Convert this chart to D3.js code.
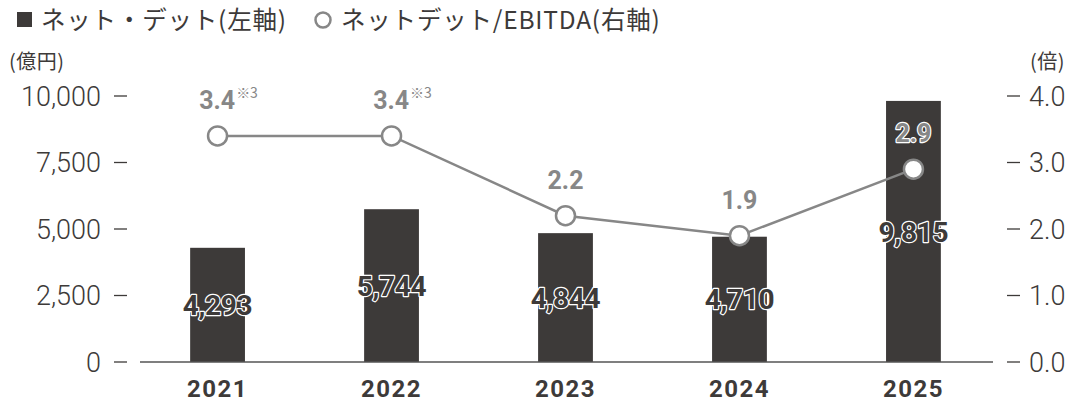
<!DOCTYPE html>
<html>
<head>
<meta charset="utf-8">
<script src="https://cdn.jsdelivr.net/npm/d3@7"></script>
<style>
  body { margin: 0; background: #fff; }
  svg { display: block; font-family: Roboto, "Noto Sans CJK JP", sans-serif; }
</style>
</head>
<body>
<div id="chart"></div>
<script>
var years = ["2021", "2022", "2023", "2024", "2025"]
var netDebt = [4293, 5744, 4844, 4710, 9815]
var ratio = [3.4, 3.4, 2.2, 1.9, 2.9]
var ratioNotes = ["※3", "※3", "", "", ""]
var leftTicks = [0, 2500, 5000, 7500, 10000]
var rightTicks = [0, 1, 2, 3, 4]

var width = 1077, height = 408
var dark = "#3d3a39", grey = "#878787"

var svg = d3.select("#chart").append("svg")
  .attr("width", width)
  .attr("height", height)

var x = d3.scaleBand().domain(years).range([131, 1000]).paddingInner(0.685).paddingOuter(0.34)
var yL = d3.scaleLinear().domain([0, 10000]).range([362, 96])
var yR = d3.scaleLinear().domain([0, 4]).range([362, 96])
var fmt = d3.format(",")
var jp = "'Noto Sans CJK JP'"

// legend
svg.append("rect").attr("x", 17).attr("y", 12).attr("width", 15).attr("height", 15).attr("fill", dark)
svg.append("text").attr("x", 41).attr("y", 29).attr("font-size", 24.5).attr("letter-spacing", 0.8)
  .attr("fill", dark).attr("font-family", jp).text("ネット・デット(左軸)")
svg.append("circle").attr("cx", 323).attr("cy", 20).attr("r", 7.5)
  .attr("fill", "#fff").attr("stroke", grey).attr("stroke-width", 2.5)
svg.append("text").attr("x", 341).attr("y", 29).attr("font-size", 24.5).attr("letter-spacing", 0.8)
  .attr("fill", dark).attr("font-family", jp).text("ネットデット/EBITDA(右軸)")

svg.append("text").attr("x", 9).attr("y", 69).attr("font-size", 20).attr("letter-spacing", 0.5)
  .attr("fill", dark).attr("font-family", jp).text("(億円)")
svg.append("text").attr("x", 1030).attr("y", 69).attr("font-size", 20).attr("letter-spacing", 0.5)
  .attr("fill", dark).attr("font-family", jp).text("(倍)")

// left axis
var la = svg.append("g").selectAll("g").data(leftTicks).enter().append("g")
la.append("line").attr("x1", 114).attr("x2", 127)
  .attr("y1", function (d) { return yL(d) }).attr("y2", function (d) { return yL(d) })
  .attr("stroke", dark).attr("stroke-width", 1.3)
la.append("text").attr("x", 101).attr("y", function (d) { return yL(d) })
  .attr("dy", ".36em").attr("text-anchor", "end").attr("font-size", 27).attr("font-weight", 300)
  .attr("fill", dark).text(function (d) { return fmt(d) })

// right axis
var ra = svg.append("g").selectAll("g").data(rightTicks).enter().append("g")
ra.append("line").attr("x1", 1007).attr("x2", 1020)
  .attr("y1", function (d) { return yR(d) }).attr("y2", function (d) { return yR(d) })
  .attr("stroke", dark).attr("stroke-width", 1.3)
ra.append("text").attr("x", 1029).attr("y", function (d) { return yR(d) })
  .attr("dy", ".36em").attr("font-size", 27).attr("font-weight", 300)
  .attr("fill", dark).text(function (d) { return d.toFixed(1) })

// bars
svg.append("g").selectAll("rect").data(netDebt).enter().append("rect")
  .attr("x", function (d, i) { return x(years[i]) })
  .attr("width", x.bandwidth())
  .attr("y", function (d) { return yL(d) })
  .attr("height", function (d) { return yL(0) - yL(d) })
  .attr("fill", dark)

// baseline
svg.append("line").attr("x1", 140).attr("x2", 993).attr("y1", 362).attr("y2", 362)
  .attr("stroke", "#555").attr("stroke-width", 1.5)

// years
svg.append("g").selectAll("text").data(years).enter().append("text")
  .attr("x", function (d) { return x(d) + x.bandwidth() / 2 })
  .attr("y", 397).attr("text-anchor", "middle").attr("font-size", 24).attr("font-weight", 700)
  .attr("letter-spacing", 1.5).attr("fill", dark).text(function (d) { return d })

// bar labels
svg.append("g").selectAll("text").data(netDebt).enter().append("text")
  .attr("x", function (d, i) { return x(years[i]) + x.bandwidth() / 2 })
  .attr("y", function (d) { return (yL(d) + yL(0)) / 2 })
  .attr("dy", ".36em").attr("text-anchor", "middle").attr("font-size", 28).attr("font-weight", 700)
  .attr("letter-spacing", -0.3)
  .attr("fill", dark).attr("stroke", "#fff").attr("stroke-width", 2.4)
  .attr("paint-order", "stroke").attr("stroke-linejoin", "round")
  .text(function (d) { return fmt(d) })

// line
var line = d3.line()
  .x(function (d, i) { return x(years[i]) + x.bandwidth() / 2 })
  .y(function (d) { return yR(d) })
svg.append("path").datum(ratio).attr("d", line)
  .attr("fill", "none").attr("stroke", grey).attr("stroke-width", 2.5)
svg.append("g").selectAll("circle").data(ratio).enter().append("circle")
  .attr("cx", function (d, i) { return x(years[i]) + x.bandwidth() / 2 })
  .attr("cy", function (d) { return yR(d) })
  .attr("r", 9.5).attr("fill", "#fff").attr("stroke", grey).attr("stroke-width", 2.5)

// line labels
var lt = svg.append("g").selectAll("text").data(ratio).enter().append("text")
  .attr("x", function (d, i) { return x(years[i]) + x.bandwidth() / 2 + (ratioNotes[i] ? 11 : 0) })
  .attr("y", function (d) { return yR(d) - 36 })
  .attr("dy", ".36em").attr("text-anchor", "middle").attr("font-size", 25).attr("font-weight", 700)
  .attr("fill", grey)
  .attr("stroke", function (d, i) { return netDebt[i] > 9000 ? "#fff" : "none" })
  .attr("stroke-width", 2.4).attr("paint-order", "stroke").attr("stroke-linejoin", "round")
lt.append("tspan").text(function (d) { return d.toFixed(1) })
lt.append("tspan").attr("font-size", 14).attr("font-weight", 400).attr("dy", "-0.75em")
  .attr("dx", 1).attr("font-family", jp)
  .text(function (d, i) { return ratioNotes[i] })
</script>
</body>
</html>
